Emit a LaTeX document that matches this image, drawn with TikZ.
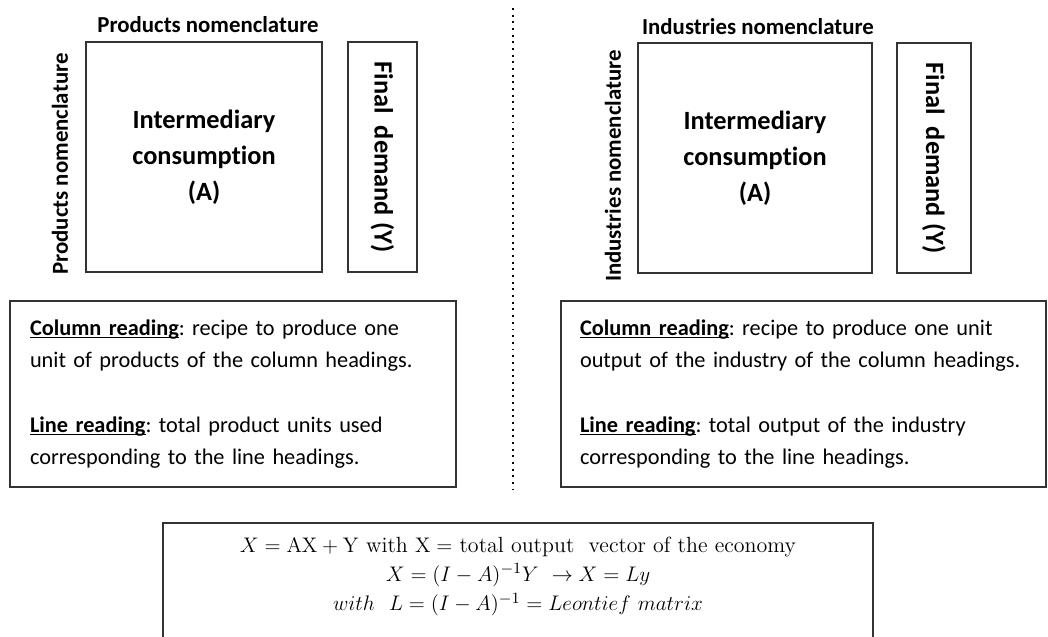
\documentclass[tikz,border=0pt]{standalone}
\usepackage[no-math]{fontspec}
\setmainfont{Carlito}[Ligatures=NoCommon]
\newfontfamily\eqfont{Latin Modern Roman}
\usepackage{amsmath}
\usetikzlibrary{positioning}

\frenchspacing
\hyphenpenalty=10000

\newsavebox{\ulbox}
\newcommand{\headul}[1]{\leavevmode\sbox{\ulbox}{\textbf{#1}}%
  \rlap{\rule[-1.7pt]{\wd\ulbox}{0.9pt}}\usebox{\ulbox}}

\tikzset{
  frame/.style={draw=black!80, line width=0.6pt},
  matbox/.style={frame, minimum height=4.6cm, align=center,
    font=\fontsize{15}{20.5}\selectfont\bfseries},
  fdbox/.style={frame, rotate=-90, minimum width=4.6cm,
    font=\fontsize{15}{18}\selectfont\bfseries},
  headlbl/.style={font=\fontsize{13}{15}\selectfont\bfseries, inner sep=1pt},
  sidelbl/.style={headlbl, rotate=90},
  readbox/.style={frame, minimum height=3.72cm, align=left,
    font=\fontsize{12.7}{18.1}\selectfont},
  formtxt/.style={inner sep=0pt, align=center, font=\eqfont\fontsize{12.5}{16.6}\selectfont},
  sepline/.style={line width=1.1pt, dash pattern=on 1.1pt off 2.7pt}
}

\begin{document}
\begin{tikzpicture}
  \useasboundingbox (0,0) rectangle (20.96,-12.74);

  % products table
  \node[matbox, minimum width=4.72cm] (prodA) at (4.08,-3.14)
    {Intermediary\\consumption\\(A)};
  \node[fdbox, minimum height=1.38cm] (prodY) at (7.65,-3.14) {Final~ demand (Y)};
  \node[headlbl] (prodTop) at (4.16,-0.5) {Products nomenclature};
  \node[sidelbl] (prodSide) at (1.2,-3.28) {Products nomenclature};

  % industries table
  \node[matbox, minimum width=4.68cm] (indA) at (15.10,-3.16)
    {Intermediary\\consumption\\(A)};
  \node[fdbox, minimum height=1.48cm] (indY) at (18.68,-3.16) {Final~ demand (Y)};
  \node[headlbl] (indTop) at (15.16,-0.54) {Industries nomenclature};
  \node[sidelbl] (indSide) at (12.26,-3.32) {Industries nomenclature};

  % readings
  \node[readbox, inner xsep=0.4cm, text width=8.12cm] (prodRead) at (4.66,-7.88)
    {\headul{Column reading}: recipe to produce one\\
     unit of products of the column headings.\\[19pt]
     \headul{Line reading}: total product units used\\
     corresponding to the line headings.};
  \node[readbox, inner xsep=0.38cm, text width=8.94cm] (indRead) at (16.07,-7.88)
    {\headul{Column reading}: recipe to produce one unit\\
     output of the industry of the column headings.\\[19pt]
     \headul{Line reading}: total output of the industry\\
     corresponding to the line headings.};

  % separator
  \coordinate (sepTop) at (10.26,-0.16);
  \coordinate (sepBot) at (10.26,-9.8);
  \draw[sepline] (sepTop) -- (sepBot);

  % formula
  \node[frame, minimum width=14.2cm, minimum height=2.4cm] (form) at (10.36,-11.66) {};
  \node[formtxt, below=8pt of form.north] (formEq)
    {$X = \mathrm{AX} + \mathrm{Y}$ with $\mathrm{X} =$ total output\ \ vector of the economy\\
     $X = (I-A)^{-1}Y\ \rightarrow X = Ly$\\
     $with\ \ L = (I-A)^{-1} = Leontief\ matrix$};
\end{tikzpicture}
\end{document}
